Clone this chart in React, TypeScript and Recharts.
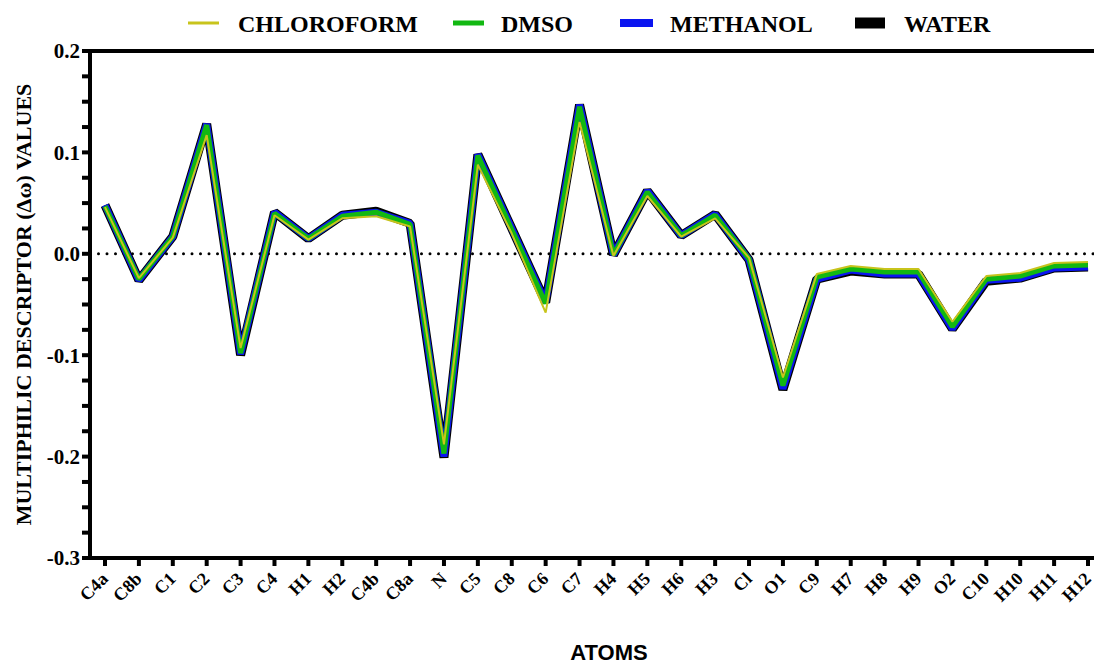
import React from 'react';
import { LineChart, Line, XAxis, YAxis, ReferenceLine, Legend } from 'recharts';

const atoms = ['C4a', 'C8b', 'C1', 'C2', 'C3', 'C4', 'H1', 'H2', 'C4b', 'C8a', 'N', 'C5', 'C8', 'C6', 'C7', 'H4', 'H5', 'H6', 'H3', 'Cl', 'O1', 'C9', 'H7', 'H8', 'H9', 'O2', 'C10', 'H10', 'H11', 'H12'];

const water = [0.048, -0.026, 0.017, 0.128, -0.100, 0.041, 0.015, 0.038, 0.042, 0.030, -0.201, 0.098, 0.025, -0.048, 0.147, -0.001, 0.062, 0.018, 0.039, -0.006, -0.134, -0.025, -0.017, -0.020, -0.020, -0.074, -0.027, -0.024, -0.014, -0.013];
const methanol = [0.048, -0.026, 0.017, 0.128, -0.099, 0.041, 0.015, 0.038, 0.041, 0.030, -0.200, 0.098, 0.025, -0.048, 0.147, -0.001, 0.062, 0.018, 0.039, -0.006, -0.133, -0.025, -0.016, -0.020, -0.020, -0.074, -0.026, -0.024, -0.014, -0.013];
const dmso = [0.047, -0.025, 0.017, 0.127, -0.098, 0.040, 0.015, 0.037, 0.041, 0.029, -0.197, 0.097, 0.024, -0.049, 0.145, -0.001, 0.061, 0.018, 0.038, -0.005, -0.130, -0.023, -0.015, -0.018, -0.018, -0.072, -0.025, -0.022, -0.012, -0.011];
const chloroform = [0.046, -0.024, 0.016, 0.117, -0.093, 0.038, 0.014, 0.035, 0.037, 0.027, -0.188, 0.088, 0.020, -0.058, 0.130, -0.002, 0.057, 0.017, 0.035, -0.004, -0.122, -0.020, -0.012, -0.015, -0.015, -0.067, -0.022, -0.019, -0.009, -0.008];

const yMajorTicks = [-0.3, -0.2, -0.1, 0.0, 0.1, 0.2];
const yMinorTicks = [-0.275, -0.25, -0.225, -0.175, -0.15, -0.125, -0.075, -0.05, -0.025, 0.025, 0.05, 0.075, 0.125, 0.15, 0.175];
const yTicks = [...yMajorTicks, ...yMinorTicks].sort((a, b) => a - b);

const seriesNames = ['CHLOROFORM', 'DMSO', 'METHANOL', 'WATER'];
const seriesColors = ['#c8c41c', '#12b812', '#0a14f0', '#000000'];

const data = atoms.map((a, i) => ({
  atom: a,
  water: water[i],
  methanol: methanol[i],
  dmso: dmso[i],
  chloroform: chloroform[i],
}));

const SERIF = '"Liberation Serif", "Times New Roman", serif';
const SANS = '"Liberation Sans", Arial, sans-serif';

const legendLayout = [
  { lx: 188, lw: 31, th: 3, tx: 238 },
  { lx: 453, lw: 31, th: 5, tx: 501 },
  { lx: 620, lw: 33, th: 8, tx: 670 },
  { lx: 855, lw: 30, th: 11, tx: 904 },
];

const LegendContent = () => (
  <svg width={1094} height={45} style={{ display: 'block' }}>
    {seriesNames.map((n, i) => (
      <g key={n}>
        <line x1={legendLayout[i].lx} x2={legendLayout[i].lx + legendLayout[i].lw} y1={23} y2={23} stroke={seriesColors[i]} strokeWidth={legendLayout[i].th} />
        <text x={legendLayout[i].tx} y={32} style={{ fontFamily: SERIF, fontWeight: 'bold', fontSize: 24 }} fill="#000">{n}</text>
      </g>
    ))}
  </svg>
);

const XTick = (props: any) => {
  const { x, y, payload } = props;
  const tx = Number(x) + 4;
  const ty = Number(y) + 12;
  return (
    <g transform={`translate(${tx},${ty}) rotate(-45)`}>
      <text x={0} y={0} textAnchor="end" style={{ fontFamily: SERIF, fontWeight: 'bold', fontSize: 18 }} fill="#000">
        {payload.value}
      </text>
    </g>
  );
};

const fmtY = (v: number) => (yMajorTicks.some((t) => Math.abs(t - v) < 1e-9) ? v.toFixed(1) : '');

export default function App() {
  return (
    <div style={{ position: 'absolute', left: 0, top: 0, width: 1094, height: 664, background: '#fff' }}>
      <LineChart width={1094} height={664} data={data} margin={{ top: 6, right: 0, left: 0, bottom: 0 }}>
        <Legend verticalAlign="top" height={45} content={<LegendContent />} wrapperStyle={{ top: 0, left: 0, width: 1094, height: 45 }} />
        <XAxis
          dataKey="atom"
          interval={0}
          height={106}
          padding={{ left: 15, right: 6 }}
          axisLine={{ stroke: '#000', strokeWidth: 4 }}
          tickLine={{ stroke: '#000', strokeWidth: 4 }}
          tickSize={8}
          tick={XTick}
          label={{ value: 'ATOMS', position: 'insideBottom', offset: 4, dx: 17, style: { fontFamily: SANS, fontWeight: 'bold', fontSize: 22, fill: '#000' } }}
        />
        <YAxis
          type="number"
          domain={[-0.3, 0.2]}
          ticks={yTicks}
          interval={0}
          width={90}
          tickFormatter={fmtY}
          axisLine={{ stroke: '#000', strokeWidth: 4 }}
          tickLine={{ stroke: '#000', strokeWidth: 4 }}
          tickSize={8}
          tick={{ fontFamily: SERIF, fontWeight: 'bold', fontSize: 21, fill: '#000' }}
          label={{ value: 'MULTIPHILIC DESCRIPTOR (Δω) VALUES', angle: -90, position: 'center', dx: -22, style: { fontFamily: SERIF, fontWeight: 'bold', fontSize: 22, fill: '#000', textAnchor: 'middle' } }}
        />
        <ReferenceLine y={0.2} stroke="#000" strokeWidth={4} />
        <ReferenceLine y={0} stroke="#000" strokeWidth={3} strokeDasharray="0 8.5" strokeLinecap="round" />
        <Line dataKey="water" stroke={seriesColors[3]} strokeWidth={9} dot={false} isAnimationActive={false} strokeLinejoin="bevel" />
        <Line dataKey="methanol" stroke={seriesColors[2]} strokeWidth={7} dot={false} isAnimationActive={false} strokeLinejoin="bevel" />
        <Line dataKey="dmso" stroke={seriesColors[1]} strokeWidth={5} dot={false} isAnimationActive={false} strokeLinejoin="bevel" />
        <Line dataKey="chloroform" stroke={seriesColors[0]} strokeWidth={2} dot={false} isAnimationActive={false} strokeLinejoin="bevel" />
      </LineChart>
    </div>
  );
}
